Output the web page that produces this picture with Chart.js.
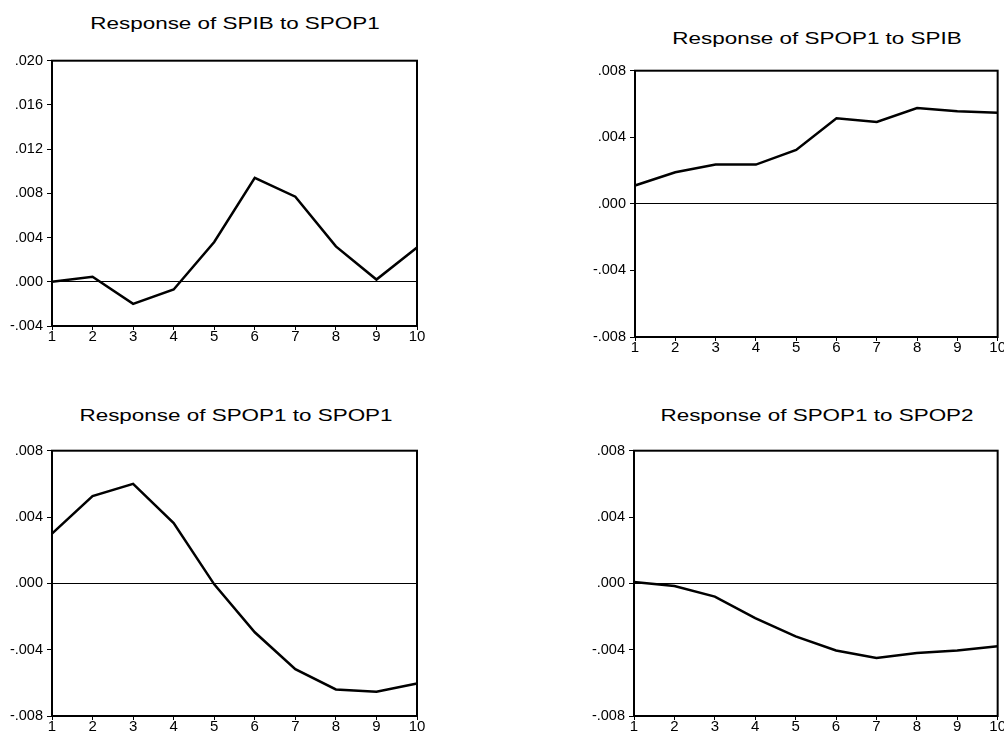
<!DOCTYPE html>
<html>
<head>
<meta charset="utf-8">
<title>Impulse responses</title>
<script src="https://cdn.jsdelivr.net/npm/chart.js@4.4.1/dist/chart.umd.min.js"></script>
<style>
  html, body { margin: 0; padding: 0; background: #fff; overflow: hidden; }
  body { width: 1004px; height: 736px; position: relative; font-family: Arial, "Liberation Sans", sans-serif; }
  canvas { position: absolute; }
  .title {
    position: absolute; width: 400px; text-align: center;
    font-size: 17px; line-height: 17px; color: #000; white-space: nowrap;
    transform: scaleX(1.32); transform-origin: center;
  }
</style>
</head>
<body>
<div class="title" style="left:35px;top:15px">Response of SPIB to SPOP1</div>
<div class="title" style="left:617px;top:30px">Response of SPOP1 to SPIB</div>
<div class="title" style="left:36px;top:407px">Response of SPOP1 to SPOP1</div>
<div class="title" style="left:617px;top:407px">Response of SPOP1 to SPOP2</div>

<canvas id="c1" width="431" height="300" style="left:0px;top:48px"></canvas>
<canvas id="c2" width="421" height="301" style="left:583px;top:58px"></canvas>
<canvas id="c3" width="431" height="300" style="left:0px;top:438px"></canvas>
<canvas id="c4" width="422" height="300" style="left:582px;top:438px"></canvas>

<script>
// periods 1..10
const periods = ['1', '2', '3', '4', '5', '6', '7', '8', '9', '10'];

// responses
const spibToSpop1  = [0.0000, 0.00045, -0.0020, -0.0007, 0.0036, 0.0094, 0.0077, 0.0032, 0.0002, 0.0031];
const spop1ToSpib  = [0.0011, 0.0019, 0.00236, 0.00236, 0.00324, 0.00514, 0.00492, 0.00576, 0.00556, 0.00548];
const spop1ToSpop1 = [0.0030, 0.00526, 0.0060, 0.00363, -0.00006, -0.00295, -0.00518, -0.0064, -0.00654, -0.00604];
const spop1ToSpop2 = [0.00008, -0.00016, -0.0008, -0.0021, -0.0032, -0.00405, -0.0045, -0.0042, -0.00405, -0.0038];

// y axis ranges
const rangeTop = [-0.004, 0.020];
const rangeOther = [-0.008, 0.008];
const yStep = 0.004;

function fmt(v) {
  if (Math.abs(v) < 1e-9) return '.000';
  return v.toFixed(3).replace('0.', '.');
}

// box around the plot area
const framePlugin = {
  id: 'frame',
  afterDatasetsDraw(chart) {
    const a = chart.chartArea;
    const ctx = chart.ctx;
    ctx.save();
    ctx.strokeStyle = '#000';
    ctx.lineWidth = 2;
    ctx.strokeRect(a.left, a.top, a.right - a.left, a.bottom - a.top);
    ctx.restore();
  }
};

function makePanel(id, values, range, rightPad) {
  const ctx = document.getElementById(id).getContext('2d');
  return new Chart(ctx, {
    type: 'line',
    data: {
      labels: periods,
      datasets: [{
        data: values,
        borderColor: '#000',
        borderWidth: 2.5,
        pointRadius: 0,
        tension: 0,
        fill: false
      }]
    },
    options: {
      responsive: false,
      animation: false,
      layout: { autoPadding: false, padding: { top: 10, right: rightPad, bottom: 0, left: 0 } },
      plugins: { legend: { display: false }, tooltip: { enabled: false }, title: { display: false } },
      scales: {
        x: {
          offset: false,
          border: { display: false },
          grid: { drawOnChartArea: false, tickColor: '#000', tickLength: 4, lineWidth: 1 },
          ticks: { color: '#000', font: { family: 'Arial', size: 15 }, padding: -2, autoSkip: false, maxRotation: 0 },
          afterFit(scale) { scale.height = 22; }
        },
        y: {
          min: range[0],
          max: range[1],
          border: { display: false },
          grid: {
            color: c => (c.tick && Math.abs(c.tick.value) < 1e-9) ? '#000' : 'rgba(0,0,0,0)',
            tickColor: '#000',
            tickLength: 5,
            lineWidth: 1
          },
          ticks: { stepSize: yStep, color: '#000', font: { family: 'Arial', size: 14.5 }, padding: 4, callback: v => fmt(v) },
          afterFit(scale) { scale.width = 52; }
        }
      }
    },
    plugins: [framePlugin]
  });
}

makePanel('c1', spibToSpop1, rangeTop, 14);
makePanel('c2', spop1ToSpib, rangeOther, 5);
makePanel('c3', spop1ToSpop1, rangeOther, 14);
makePanel('c4', spop1ToSpop2, rangeOther, 6);
</script>
</body>
</html>
